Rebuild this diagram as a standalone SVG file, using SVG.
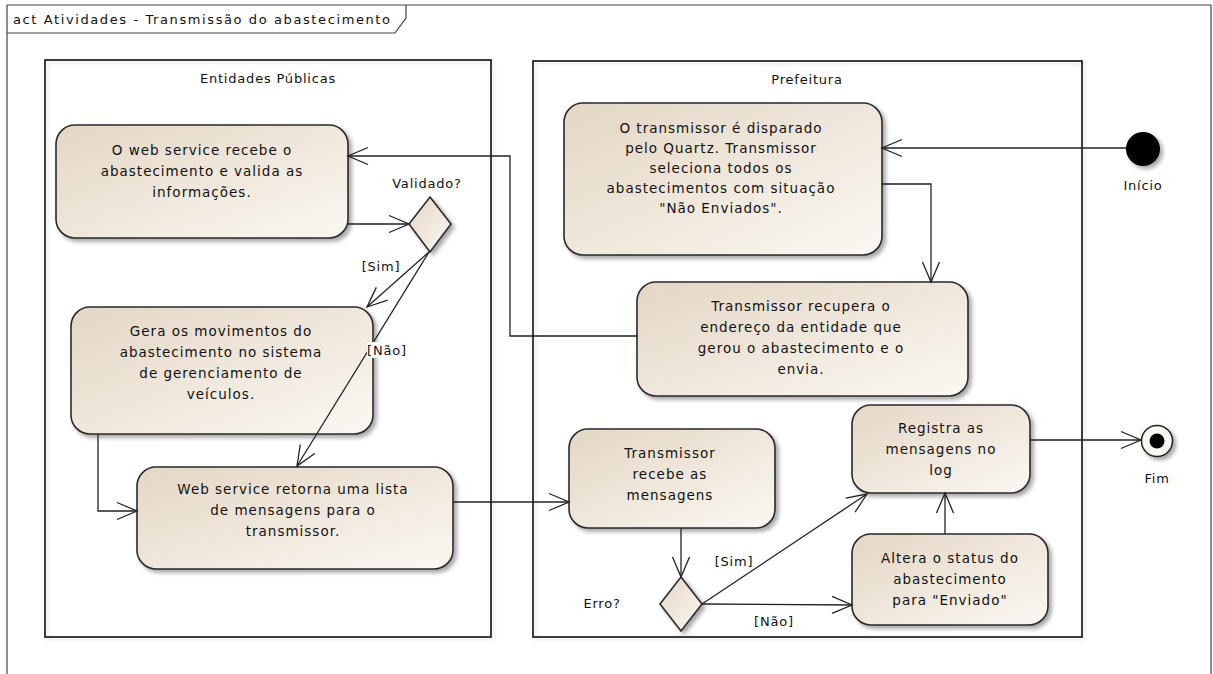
<svg xmlns="http://www.w3.org/2000/svg" width="1213" height="674" viewBox="0 0 1213 674">
<style>
.t{font-family:"DejaVu Sans","Liberation Sans",sans-serif;font-size:13.5px;letter-spacing:1px;fill:#111;text-anchor:middle}
.lbl{font-family:"DejaVu Sans","Liberation Sans",sans-serif;font-size:13px;letter-spacing:0.8px;fill:#111;text-anchor:middle}
.node{fill:url(#g);stroke:#2a2a2a;stroke-width:1.6;filter:url(#sh)}
.part{fill:none;stroke:#111;stroke-width:1.6}
.c{fill:none;stroke:#222;stroke-width:1.3;marker-end:url(#arr)}
</style>
<defs>
<linearGradient id="g" x1="0" y1="0" x2="1" y2="1">
<stop offset="0" stop-color="#E3D6C4"/>
<stop offset="1" stop-color="#FBF8F2"/>
</linearGradient>
<filter id="sh" x="-10%" y="-10%" width="130%" height="130%">
<feDropShadow dx="3" dy="3" stdDeviation="2" flood-color="#000" flood-opacity="0.35"/>
</filter>
<filter id="sh2" x="-5%" y="-5%" width="110%" height="110%">
<feDropShadow dx="2" dy="2" stdDeviation="2" flood-color="#000" flood-opacity="0.15"/>
</filter>
<marker id="arr" markerUnits="userSpaceOnUse" markerWidth="30" markerHeight="30" viewBox="-25 -15 30 30" refX="0" refY="0" orient="auto">
<path d="M-20,-8.5 L0,0 L-20,8.5" fill="none" stroke="#222" stroke-width="1.3"/>
</marker>
</defs>
<rect width="1213" height="674" fill="#fff"/>
<g id="frame">
<path d="M7,680 L7,5 L1211,5 L1211,680" fill="none" stroke="#444" stroke-width="1.2"/>
<path d="M7,33 L395,33 L406,18 L406,5" fill="none" stroke="#444" stroke-width="1.2"/>
<text x="13" y="24" font-family="DejaVu Sans, sans-serif" font-size="13" fill="#111" textLength="377" lengthAdjust="spacing">act Atividades - Transmissão do abastecimento</text>
</g>
<g id="part-entidades">
<rect x="45" y="60" width="446" height="577" class="part" filter="url(#sh2)"/>
<text x="268" y="83" class="lbl">Entidades Públicas</text>
</g>
<g id="part-prefeitura">
<rect x="533" y="61" width="549" height="576" class="part" filter="url(#sh2)"/>
<text x="807" y="84" class="lbl">Prefeitura</text>
</g>
<g id="n-inicio">
<circle cx="1143" cy="149" r="17" fill="#000" filter="url(#sh)"/>
<text x="1143" y="190" class="lbl">Início</text>
</g>
<g id="n-fim">
<circle cx="1157" cy="441" r="15.5" fill="#fbf8f2" stroke="#222" stroke-width="1.5" filter="url(#sh)"/>
<circle cx="1157" cy="441" r="7.5" fill="#000"/>
<text x="1157" y="483" class="lbl">Fim</text>
</g>
<g id="n-recebe">
<rect x="56" y="125" width="292" height="113" rx="19" class="node"/>
<text class="t"><tspan x="202" y="155">O web service recebe o</tspan><tspan x="202" y="176">abastecimento e valida as</tspan><tspan x="202" y="197">informações.</tspan></text>
</g>
<g id="d-validado">
<path d="M430,197 L451,224 L430,252 L409,224 Z" class="node"/>
<text x="427" y="188" class="lbl">Validado?</text>
</g>
<g id="n-gera">
<rect x="71" y="307" width="302" height="127" rx="19" class="node"/>
<text class="t"><tspan x="221" y="336">Gera os movimentos do</tspan><tspan x="221" y="357">abastecimento no sistema</tspan><tspan x="221" y="378">de gerenciamento de</tspan><tspan x="221" y="399">veículos.</tspan></text>
</g>
<g id="n-retorna">
<rect x="137" y="467" width="316" height="102" rx="19" class="node"/>
<text class="t"><tspan x="293" y="494">Web service retorna uma lista</tspan><tspan x="293" y="515">de mensagens para o</tspan><tspan x="293" y="536">transmissor.</tspan></text>
</g>
<g id="n-transmissor">
<rect x="564" y="103" width="318" height="152" rx="19" class="node"/>
<text class="t"><tspan x="721" y="133">O transmissor é disparado</tspan><tspan x="721" y="153">pelo Quartz. Transmissor</tspan><tspan x="721" y="173">seleciona todos os</tspan><tspan x="721" y="193">abastecimentos com situação</tspan><tspan x="721" y="213">"Não Enviados".</tspan></text>
</g>
<g id="n-recupera">
<rect x="637" y="282" width="331" height="114" rx="19" class="node"/>
<text class="t"><tspan x="801" y="311">Transmissor recupera o</tspan><tspan x="801" y="332">endereço da entidade que</tspan><tspan x="801" y="353">gerou o abastecimento e o</tspan><tspan x="801" y="374">envia.</tspan></text>
</g>
<g id="n-recebe-msg">
<rect x="569" y="429" width="206" height="99" rx="19" class="node"/>
<text class="t"><tspan x="670" y="458">Transmissor</tspan><tspan x="670" y="479">recebe as</tspan><tspan x="670" y="500">mensagens</tspan></text>
</g>
<g id="d-erro">
<path d="M681,577 L702,604 L681,631 L660,604 Z" class="node"/>
<text x="602" y="608" class="lbl">Erro?</text>
</g>
<g id="n-registra">
<rect x="852" y="405" width="178" height="88" rx="19" class="node"/>
<text class="t"><tspan x="941" y="433">Registra as</tspan><tspan x="941" y="454">mensagens no</tspan><tspan x="941" y="475">log</tspan></text>
</g>
<g id="n-altera">
<rect x="852" y="534" width="196" height="91" rx="19" class="node"/>
<text class="t"><tspan x="950" y="563">Altera o status do</tspan><tspan x="950" y="584">abastecimento</tspan><tspan x="950" y="605">para "Enviado"</tspan></text>
</g>
<g id="connectors">
<path class="c" d="M1126,148 L882,148"/>
<path class="c" d="M882,184 L931,184 L931,282"/>
<path class="c" d="M637,336 L510,336 L510,156 L348,156"/>
<path class="c" d="M348,224 L409,224"/>
<path class="c" d="M429,252 L367,307"/>
<path class="c" d="M429,252 L297,466"/>
<path class="c" d="M98,434 L98,511 L137,511"/>
<path class="c" d="M453,502 L569,502"/>
<path class="c" d="M681,528 L681,577"/>
<path class="c" d="M702,604 L867,494"/>
<path class="c" d="M702,604 L852,605"/>
<path class="c" d="M945,534 L945,493"/>
<path class="c" d="M1030,440 L1141,440"/>
<text x="381" y="271" class="lbl">[Sim]</text>
<rect x="367" y="342" width="41" height="16" fill="#fff"/>
<text x="387" y="355" class="lbl">[Não]</text>
<text x="734" y="566" class="lbl">[Sim]</text>
<text x="774" y="626" class="lbl">[Não]</text>
</g>
</svg>
